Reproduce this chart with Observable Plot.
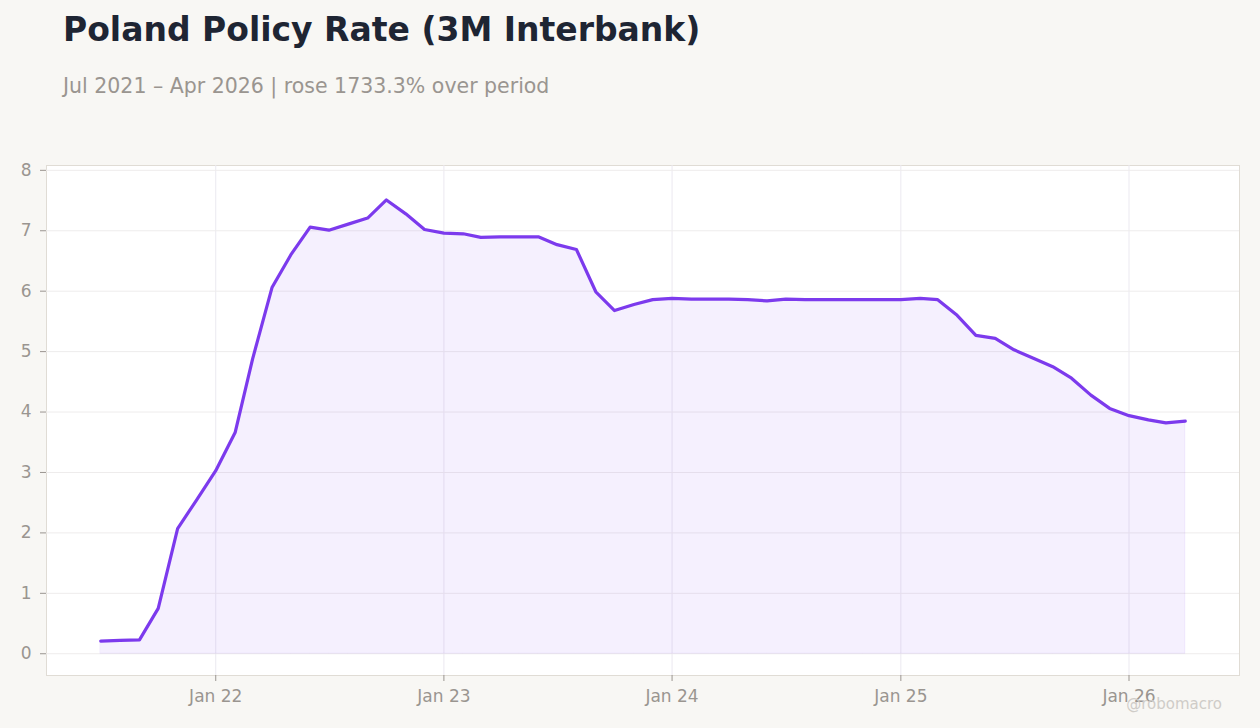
<!DOCTYPE html>
<html>
<head>
<meta charset="utf-8">
<script src="https://cdn.jsdelivr.net/npm/d3@7"></script>
<script src="https://cdn.jsdelivr.net/npm/@observablehq/plot@0.6"></script>
<style>
  html, body { margin: 0; padding: 0; background: #f8f7f4; width: 1260px; height: 728px; overflow: hidden; font-family: "DejaVu Sans", sans-serif; }
  #title { position: absolute; left: 63px; top: 10px; font-size: 33px; font-weight: bold; color: #1e2533; white-space: nowrap; }
  #subtitle { position: absolute; left: 63px; top: 74px; font-size: 20.5px; color: #9a9590; white-space: nowrap; }
  #chart { position: absolute; left: 0; top: 150px; }
  #credit { position: absolute; right: 38px; top: 695px; font-size: 15px; color: #cfccc8; }
</style>
</head>
<body>
<div id="title">Poland Policy Rate (3M Interbank)</div>
<div id="subtitle">Jul 2021 – Apr 2026 | rose 1733.3% over period</div>
<div id="chart"></div>
<div id="credit">@robomacro</div>
<script>
// Monthly 3M interbank rate (%), Jul 2021 – Apr 2026
const startMonth = "2021-07-01";
const rates = [
  0.21, 0.22, 0.23, 0.75, 2.07, 2.54,            // 2021 Jul–Dec
  3.03, 3.66, 4.88, 6.06, 6.60, 7.06, 7.01, 7.11, 7.21, 7.51, 7.28, 7.02, // 2022
  6.96, 6.95, 6.89, 6.90, 6.90, 6.90, 6.77, 6.69, 5.99, 5.68, 5.78, 5.86, // 2023
  5.88, 5.87, 5.87, 5.87, 5.86, 5.84, 5.87, 5.86, 5.86, 5.86, 5.86, 5.86, // 2024
  5.86, 5.88, 5.86, 5.60, 5.27, 5.22, 5.03, 4.89, 4.75, 4.56, 4.28, 4.06, // 2025
  3.94, 3.87, 3.82, 3.85                           // 2026 Jan–Apr
];
const yTicks = [0, 1, 2, 3, 4, 5, 6, 7, 8];
const yDomain = [-0.36, 8.08];

const start = new Date(startMonth + "T00:00:00Z");
const dates = rates.map((_, i) => d3.utcMonth.offset(start, i));
const data = dates.map((d, i) => ({date: d, value: rates[i]}));

const t0 = dates[0].getTime(), t1 = dates[dates.length - 1].getTime();
const pad = (t1 - t0) * 0.05;
const xDomain = [new Date(t0 - pad), new Date(t1 + pad)];

const color = "#7c3aed";

const chart = Plot.plot({
  width: 1260,
  height: 570,
  marginLeft: 46,
  marginRight: 21,
  marginTop: 15,
  marginBottom: 45,
  style: { background: "transparent", fontFamily: "DejaVu Sans, sans-serif", fontSize: "17px", color: "#9a9590" },
  x: {
    type: "utc",
    domain: xDomain,
    label: null
  },
  y: {
    domain: yDomain,
    label: null
  },
  marks: [
    Plot.frame({fill: "white", stroke: "#e0dcd5"}),
    Plot.gridX({ticks: d3.utcYear.every(1), stroke: "#ebe9f0", strokeOpacity: 1}),
    Plot.gridY({ticks: yTicks, stroke: "#eeecec", strokeOpacity: 1}),
    Plot.areaY(data, {x: "date", y: "value", fill: color, fillOpacity: 0.08, stroke: color, strokeOpacity: 0.08}),
    Plot.lineY(data, {x: "date", y: "value", stroke: color, strokeWidth: 3.2, strokeLinejoin: "round", strokeLinecap: "round"}),
    Plot.axisX({ticks: d3.utcYear.every(1), tickFormat: d3.utcFormat("%b %y"), tickSize: 6, tickPadding: 8, stroke: "#9a9590", fill: "#9a9590", fontSize: 17}),
    Plot.axisY({ticks: yTicks, tickSize: 6, tickPadding: 9, stroke: "#9a9590", fill: "#9a9590", fontSize: 17})
  ]
});
document.getElementById("chart").appendChild(chart);
</script>
</body>
</html>
